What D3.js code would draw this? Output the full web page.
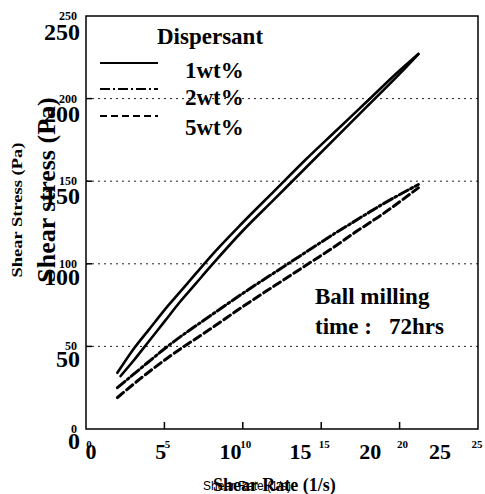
<!DOCTYPE html>
<html>
<head>
<meta charset="utf-8">
<script src="https://cdn.jsdelivr.net/npm/d3@7"></script>
<style>
  html, body { margin: 0; padding: 0; background: #fff; }
  svg { display: block; }
  text { font-family: "Liberation Serif", "Times New Roman", serif; font-weight: bold; fill: #000; }
</style>
</head>
<body>
<svg id="chart" width="485" height="494"></svg>
<script>
// ---- data ----
const xTicks = [0, 5, 10, 15, 20, 25];
const yTicks = [0, 50, 100, 150, 200, 250];
const gridValues = [50, 100, 150, 200];

// 1wt% (solid hysteresis loop)
const rate1Up = [2.0, 3.0, 4.0, 5.0, 6.0, 7.0, 8.0, 10.0, 12.0, 14.0, 16.0, 18.0, 20.0, 21.2];
const stress1Up = [34, 48, 60, 72, 83, 94, 105, 125, 144, 163, 181, 199, 217, 227];
const rate1Down = [2.2, 3.0, 4.0, 5.0, 6.0, 7.0, 8.0, 10.0, 12.0, 14.0, 16.0, 18.0, 20.0, 21.2];
const stress1Down = [32, 41, 53, 65, 77, 88, 99, 120, 139, 158, 177, 196, 215, 227];

// 2wt% (dash-dot) and 5wt% (dashed)
const rate2 = [2.0, 3.4, 5.2, 8.0, 10.3, 12.4, 14.5, 15.8, 17.0, 18.9, 21.2];
const stress2 = [25, 36, 50, 69, 84, 97, 110, 118, 125, 136, 148];
const rate5 = [2.0, 3.4, 5.2, 8.0, 10.3, 12.4, 14.5, 15.8, 17.0, 18.9, 21.2];
const stress5 = [19, 30, 43, 61, 76, 89, 102, 110, 118, 130, 146];

const legendLabels = ["1wt%", "2wt%", "5wt%"];
const legendDash = [null, "10,3,2,3", "7,4"];

// ---- drawing ----
const svg = d3.select("#chart");
const x = d3.scaleLinear().domain([0, 25]).range([86, 478]);
const y = d3.scaleLinear().domain([0, 250]).range([429, 16]);
// second (offset) label layer as in the scanned original
const xBig = d3.scaleLinear().domain([0, 25]).range([91, 440]);
const yBig = d3.scaleLinear().domain([0, 250]).range([441, 32]);

// gridlines
svg.append("g").selectAll("line").data(gridValues).join("line")
  .attr("x1", x(0)).attr("x2", x(25))
  .attr("y1", d => y(d)).attr("y2", d => y(d))
  .attr("stroke", "#222").attr("stroke-width", 1).attr("stroke-dasharray", "2,4");

// frame
svg.append("rect")
  .attr("x", x(0)).attr("y", y(250))
  .attr("width", x(25) - x(0)).attr("height", y(0) - y(250))
  .attr("fill", "none").attr("stroke", "#000").attr("stroke-width", 1.5);

// ticks (inside)
svg.append("g").selectAll("line").data(xTicks.filter(d => d > 0 && d < 25)).join("line")
  .attr("x1", d => x(d)).attr("x2", d => x(d))
  .attr("y1", y(0)).attr("y2", y(0) - 7)
  .attr("stroke", "#000").attr("stroke-width", 1.5);
svg.append("g").selectAll("line").data(yTicks.filter(d => d > 0 && d < 250)).join("line")
  .attr("x1", x(0)).attr("x2", x(0) + 6)
  .attr("y1", d => y(d)).attr("y2", d => y(d))
  .attr("stroke", "#000").attr("stroke-width", 1.5);

// small tick labels
svg.append("g").selectAll("text").data(yTicks).join("text")
  .attr("x", 77).attr("y", d => y(d) + 4)
  .attr("text-anchor", "end").attr("font-size", 12).text(d => d);
svg.append("g").selectAll("text").data(xTicks).join("text")
  .attr("x", d => Math.min(x(d) + 3, 477)).attr("y", 448)
  .attr("text-anchor", "middle").attr("font-size", 11).text(d => d);

// big tick labels
svg.append("g").selectAll("text").data(yTicks).join("text")
  .attr("x", 80).attr("y", d => yBig(d) + 8)
  .attr("text-anchor", "end").attr("font-size", 24).text(d => d);
svg.append("g").selectAll("text").data(xTicks).join("text")
  .attr("x", d => xBig(d)).attr("y", 459)
  .attr("text-anchor", "middle").attr("font-size", 22).text(d => d);

// axis titles
svg.append("text")
  .attr("transform", "translate(22,210) rotate(-90)")
  .attr("text-anchor", "middle").attr("font-size", 15)
  .attr("textLength", 135).attr("lengthAdjust", "spacingAndGlyphs")
  .text("Shear Stress (Pa)");
svg.append("text")
  .attr("transform", "translate(55,190) rotate(-90)")
  .attr("text-anchor", "middle").attr("font-size", 26)
  .text("Shear stress (Pa)");
svg.append("text")
  .attr("x", 203).attr("y", 490)
  .style("font-family", "'Liberation Sans', Arial, sans-serif").style("font-weight", "normal")
  .attr("font-size", 12).text("Shear Rate (1/s)");
svg.append("text")
  .attr("x", 213).attr("y", 491)
  .attr("font-size", 18).text("Shear Rate (1/s)");

// curves
const line = d3.line().x(d => x(d[0])).y(d => y(d[1])).curve(d3.curveMonotoneX);
const zip = (a, b) => a.map((v, i) => [v, b[i]]);

function drawCurve(pts, dash, w) {
  svg.append("path").datum(pts)
    .attr("d", line)
    .attr("fill", "none").attr("stroke", "#000")
    .attr("stroke-width", w)
    .attr("stroke-dasharray", dash)
    .attr("stroke-linecap", "round");
}
drawCurve(zip(rate1Up, stress1Up), null, 2.6);
drawCurve(zip(rate1Down, stress1Down), null, 2.6);
drawCurve(zip(rate2, stress2), "10,3,2,3", 3);
drawCurve(zip(rate5, stress5), "8,4", 3);

// legend
svg.append("text").attr("x", 157).attr("y", 44).attr("font-size", 23).text("Dispersant");
const legY = [63, 89, 116];
const legTextY = [78, 105, 135];
legendLabels.forEach((lab, i) => {
  svg.append("line")
    .attr("x1", 100).attr("x2", 158).attr("y1", legY[i]).attr("y2", legY[i])
    .attr("stroke", "#000").attr("stroke-width", 2)
    .attr("stroke-dasharray", legendDash[i]);
  svg.append("text").attr("x", 185).attr("y", legTextY[i]).attr("font-size", 23).text(lab);
});

// annotation
svg.append("text").attr("x", 315).attr("y", 304).attr("font-size", 23).text("Ball milling");
svg.append("text").attr("x", 315).attr("y", 334).attr("font-size", 23)
  .attr("xml:space", "preserve").style("white-space", "pre").text("time :   72hrs");
</script>
</body>
</html>
